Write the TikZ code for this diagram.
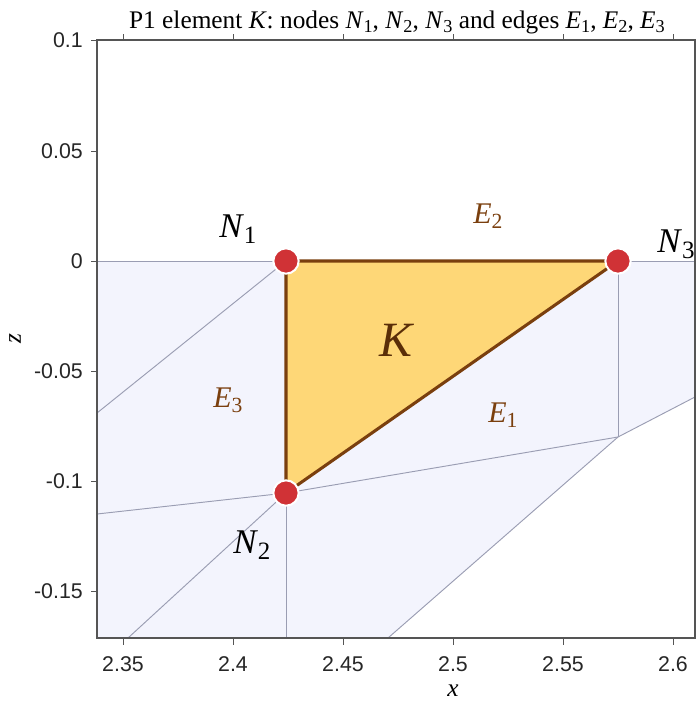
\documentclass[tikz,border=0pt]{standalone}
\usepackage{fontspec}
\usepackage{graphicx}
\setmainfont{Liberation Serif}
\newfontfamily\ticksf{Liberation Sans}
\definecolor{meshfill}{HTML}{F3F4FD}
\definecolor{meshline}{HTML}{9A9DB3}
\definecolor{elemfill}{HTML}{FED777}
\definecolor{elemedge}{HTML}{7A3F0E}
\definecolor{nodered}{HTML}{D03236}
\definecolor{labbrown}{HTML}{7A3F0E}
\definecolor{kbrown}{HTML}{5A2E08}
\definecolor{framegray}{HTML}{555555}
\newcommand{\lbl}[2]{\textit{#1}\raisebox{-0.18em}{\scalebox{0.72}{#2}}}
\tikzset{
  meshln/.style={draw=meshline, line width=0.7pt},
  elemln/.style={draw=elemedge, line width=2.3pt, line cap=round, line join=round},
  vert/.style={circle, fill=nodered, draw=white, line width=1.5pt, minimum size=19pt, inner sep=0pt},
  nlab/.style={font=\fontsize{26}{26}\selectfont, inner sep=0pt, anchor=base west, text=black},
  elab/.style={font=\fontsize{22.5}{22.5}\selectfont, inner sep=0pt, anchor=base west, text=labbrown},
  ticklab/.style={font=\ticksf\fontsize{16}{16}\selectfont, inner sep=0pt, text=black!85},
  tickln/.style={draw=framegray, line width=0.75pt},
}
\begin{document}
\begin{tikzpicture}[x=0.75pt, y=-0.75pt]
\useasboundingbox (0,0) rectangle (696,704);
% corner coordinates
\coordinate (BL) at (97,638);
\coordinate (TR) at (695,40);
\coordinate (N1p) at (286,261);
\coordinate (N2p) at (286,493);
\coordinate (N3p) at (618,261);
\coordinate (V) at (618,437);
\coordinate (LZ) at (97,261);
\coordinate (RZ) at (695,261);
\coordinate (RV) at (695,397);
\coordinate (BV) at (388,638);
\coordinate (BR) at (695,638);
\coordinate (LA) at (97,413);
\coordinate (LB) at (97,514);
\coordinate (BA) at (128,638);
\coordinate (BB) at (286,638);
% shaded mesh region
\fill[meshfill] (LZ) -- (RZ) -- (RV) -- (V) -- (BV) -- (BL) -- cycle;
% mesh lines
\draw[meshln] (LZ) -- (N1p);
\draw[meshln] (N3p) -- (RZ);
\draw[meshln] (N1p) -- (LA);
\draw[meshln] (N2p) -- (LB);
\draw[meshln] (N2p) -- (BA);
\draw[meshln] (N2p) -- (BB);
\draw[meshln] (N2p) -- (V);
\draw[meshln] (N3p) -- (V);
\draw[meshln] (V) -- (RV);
\draw[meshln] (V) -- (BV);
% element
\fill[elemfill] (N1p) -- (N2p) -- (N3p) -- cycle;
\draw[elemln] (N1p) -- (N2p) -- (N3p) -- cycle;
% frame
\draw[framegray, line width=0.8pt] (BL) rectangle (TR);
% x ticks
\foreach \px/\t in {123/2.35, 233/2.4, 343/2.45, 453/2.5, 563/2.55, 673/2.6}{
  \draw[tickln] (\px,638) -- (\px,645);
  \draw[tickln] (\px,40) -- (\px,34);
  \node[ticklab] at (\px,664) {\t};
}
% y ticks
\foreach \py/\t in {40/0.1, 151/0.05, 261/0, 371/-0.05, 481/-0.1, 591/-0.15}{
  \draw[tickln] (97,\py) -- (91,\py);
  \node[ticklab, anchor=east] at (83,\py) {\t};
}
% axis labels
\node[inner sep=0pt, font=\fontsize{19}{19}\selectfont\itshape] (xl) at (453,691) {x};
\node[inner sep=0pt, font=\fontsize{19}{19}\selectfont\itshape, rotate=90] (zl) at (15,339) {z};
% title
\node[inner sep=0pt, anchor=base, font=\fontsize{19}{19}\selectfont] (title) at (397,28)
  {P1 element \textit{K}: nodes \lbl{N}{1}, \lbl{N}{2}, \lbl{N}{3} and edges \lbl{E}{1}, \lbl{E}{2}, \lbl{E}{3}};
% vertices
\node[vert] (N1) at (N1p) {};
\node[vert] (N2) at (N2p) {};
\node[vert] (N3) at (N3p) {};
% labels
\node[nlab] (l1) at (219,237) {\lbl{N}{1}};
\node[nlab] (l2) at (233,553) {\lbl{N}{2}};
\node[nlab] (l3) at (657,252) {\lbl{N}{3}};
\node[elab] (e1) at (488,422) {\lbl{E}{1}};
\node[elab] (e2) at (473,223) {\lbl{E}{2}};
\node[elab] (e3) at (213,407) {\lbl{E}{3}};
\node[inner sep=0pt, anchor=base, text=kbrown, font=\fontsize{37}{37}\selectfont\itshape] (K) at (396,356) {K};
\end{tikzpicture}
\end{document}
